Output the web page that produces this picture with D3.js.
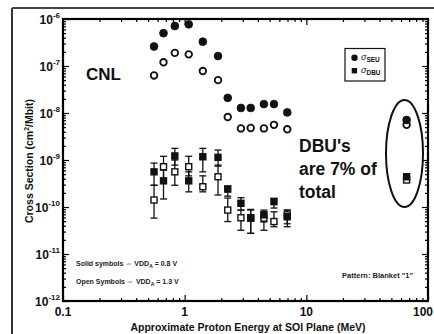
<!DOCTYPE html>
<html><head><meta charset="utf-8">
<script src="https://cdn.jsdelivr.net/npm/d3@7"></script>
<style>
html,body{margin:0;padding:0;background:#fff;}
svg{display:block;font-family:"Liberation Sans",Arial,Helvetica,sans-serif;font-weight:bold;}
</style></head>
<body><svg id="c" width="434" height="334"></svg>
<script>
// ---- data ----
const energy = [0.56,0.67,0.83,1.08,1.41,1.88,2.26,2.9,3.49,4.48,5.42,6.97];
const seuSolid = [2.6e-7,5.0e-7,7.1e-7,7.7e-7,3.3e-7,1.63e-7,2.1e-8,1.28e-8,1.28e-8,1.55e-8,1.55e-8,1.03e-8];
const seuOpen  = [6.3e-8,1.2e-7,1.9e-7,1.77e-7,7.8e-8,5.0e-8,8.2e-9,4.7e-9,4.8e-9,4.7e-9,5.6e-9,4.5e-9];
const dbuSolid = [5.6e-10,3.6e-10,1.22e-9,3.6e-10,1.17e-9,1.14e-9,2.4e-10,1.2e-10,5.9e-11,6.8e-11,1.3e-10,6.2e-11];
const dbuSolidHi = [8.6e-10,6.1e-10,1.77e-9,5.6e-10,1.77e-9,1.63e-9,2.8e-10,1.58e-10,8.9e-11,8.6e-11,1.53e-10,8.6e-11];
const dbuSolidLo = [2.9e-10,1.48e-10,7.8e-10,2.1e-10,5.6e-10,7.4e-10,1.7e-10,8.6e-11,2.75e-11,4.8e-11,9.5e-11,3.8e-11];
const dbuOpen  = [1.41e-10,7.2e-10,5.6e-10,7.2e-10,2.7e-10,4.4e-10,8.6e-11,5.9e-11,5.8e-11,5.8e-11,4.9e-11,6.8e-11];
const dbuOpenHi = [2.9e-10,1.2e-9,1.0e-9,1.2e-9,4.6e-10,7.8e-10,1.55e-10,8.6e-11,8.6e-11,7.9e-11,7.9e-11,8.6e-11];
const dbuOpenLo = [5.8e-11,4.1e-10,2.9e-10,4.6e-10,2.1e-10,1.8e-10,4.9e-11,3.2e-11,2.75e-11,3.2e-11,3.8e-11,4.4e-11];
const hiEnergy = [66.7];
const hiSeuSolid = [7.1e-9], hiSeuOpen = [5.6e-9];
const hiDbuSolid = [4.4e-10], hiDbuOpen = [3.75e-10];
const xTicks = [0.1, 1, 10, 100];
const xTickLabels = ["0.1", "1", "10", "100"];
const yExps = [-12,-11,-10,-9,-8,-7,-6];
const legendLabels = [["σ","SEU"],["σ","DBU"]];

// ---- layout ----
const svg = d3.select("#c");
const L = 63, R = 428, T = 19, B = 301;
const x = d3.scaleLog().domain([0.1,100]).range([L,R]);
const y = d3.scaleLog().domain([1e-12,1e-6]).range([B,T]);

// outer scan frame
svg.append("line").attr("x1",12).attr("x2",12).attr("y1",8).attr("y2",334).attr("stroke","#333").attr("stroke-width",2);
svg.append("line").attr("x1",12).attr("x2",434).attr("y1",8).attr("y2",8).attr("stroke","#444").attr("stroke-width",2);

// minor tick values
const xMinor = x.ticks(30).filter(v => !xTicks.some(t => Math.abs(t-v)/t < 1e-6));
const yMinor = y.ticks(60).filter(v => Math.abs(Math.log10(v) - Math.round(Math.log10(v))) > 1e-6);

function tickAxis(gen, tr, vals, size) {
  const g = svg.append("g").attr("transform", tr)
    .call(gen.tickValues(vals).tickSize(size).tickFormat(""));
  g.select(".domain").remove();
  g.selectAll("line").attr("stroke","#000").attr("stroke-width",1.2);
  return g;
}
// inward ticks on all four sides
tickAxis(d3.axisBottom(x), `translate(0,${B})`, xTicks, -6);
tickAxis(d3.axisBottom(x), `translate(0,${B})`, xMinor, -3);
tickAxis(d3.axisTop(x), `translate(0,${T})`, xTicks, -6);
tickAxis(d3.axisTop(x), `translate(0,${T})`, xMinor, -3);
const yMaj = yExps.map(e => Math.pow(10,e));
tickAxis(d3.axisLeft(y), `translate(${L},0)`, yMaj, -6);
tickAxis(d3.axisLeft(y), `translate(${L},0)`, yMinor, -3);
tickAxis(d3.axisRight(y), `translate(${R},0)`, yMaj, -6);
tickAxis(d3.axisRight(y), `translate(${R},0)`, yMinor, -3);

// plot frame
svg.append("rect").attr("x",L).attr("y",T).attr("width",R-L).attr("height",B-T)
  .attr("fill","none").attr("stroke","#000").attr("stroke-width",2.2);

// y tick labels with superscripts
const yl = svg.append("g");
yExps.forEach(e => {
  const t = yl.append("text").attr("x",L-3).attr("y",y(Math.pow(10,e))+5)
    .attr("text-anchor","end").attr("font-size",12).attr("fill","#111");
  t.append("tspan").text("10");
  t.append("tspan").attr("dy",-6).attr("font-size",8).text(e);
});
// x tick labels (last one kept inside the page)
xTicks.forEach((v,i) => {
  const last = i === xTicks.length - 1;
  svg.append("text").attr("x", last ? 433 : x(v)).attr("y",316)
    .attr("text-anchor", last ? "end" : "middle")
    .attr("font-size",12).attr("fill","#111").text(xTickLabels[i]);
});

// axis titles
svg.append("text").attr("x",248).attr("y",331).attr("text-anchor","middle")
  .attr("font-size",10.5).attr("fill","#111").text("Approximate Proton Energy at SOI Plane (MeV)");
const yt = svg.append("text").attr("transform","translate(33,161) rotate(-90)")
  .attr("text-anchor","middle").attr("font-size",10.5).attr("fill","#111");
yt.append("tspan").text("Cross Section (cm");
yt.append("tspan").attr("dy",-4).attr("font-size",7).text("2");
yt.append("tspan").attr("dy",4).text("/Mbit)");

// ---- marks ----
const g = svg.append("g");
function errBars(vals, lo, hi) {
  energy.forEach((e,i) => {
    const cx = x(e);
    g.append("line").attr("x1",cx).attr("x2",cx).attr("y1",y(hi[i])).attr("y2",y(lo[i])).attr("stroke","#111").attr("stroke-width",1.3);
    [hi[i],lo[i]].forEach(v => g.append("line").attr("x1",cx-3.5).attr("x2",cx+3.5).attr("y1",y(v)).attr("y2",y(v)).attr("stroke","#111").attr("stroke-width",1.3));
  });
}
errBars(dbuOpen, dbuOpenLo, dbuOpenHi);
errBars(dbuSolid, dbuSolidLo, dbuSolidHi);

function circles(xs, vals, filled) {
  g.selectAll(null).data(vals).enter().append("circle")
    .attr("cx",(d,i)=>x(xs[i])).attr("cy",d=>y(d))
    .attr("r", filled ? 3.9 : 3.3)
    .attr("fill", filled ? "#111" : "#fff").attr("stroke","#111").attr("stroke-width", filled ? 0.8 : 1.8);
}
function squares(xs, vals, filled) {
  const s = 6;
  g.selectAll(null).data(vals).enter().append("rect")
    .attr("x",(d,i)=>x(xs[i])-s/2).attr("y",d=>y(d)-s/2).attr("width",s).attr("height",s)
    .attr("fill", filled ? "#111" : "#fff").attr("stroke","#111").attr("stroke-width",1.4);
}
circles(energy, seuOpen, false);
circles(energy, seuSolid, true);
squares(energy, dbuOpen, false);
squares(energy, dbuSolid, true);
circles(hiEnergy, hiSeuOpen, false);
circles(hiEnergy, hiSeuSolid, true);
squares(hiEnergy, hiDbuOpen, false);
squares(hiEnergy, hiDbuSolid, true);

// ellipse around high-energy points
svg.append("ellipse").attr("cx",404.5).attr("cy",153.5).attr("rx",18.5).attr("ry",53.5)
  .attr("fill","none").attr("stroke","#111").attr("stroke-width",2);

// legend
svg.append("rect").attr("x",345).attr("y",48.5).attr("width",40).attr("height",32.5)
  .attr("fill","#fff").attr("stroke","#111").attr("stroke-width",1.2);
svg.append("circle").attr("cx",354.5).attr("cy",57.7).attr("r",3.2).attr("fill","#111");
svg.append("rect").attr("x",351.7).attr("y",68).attr("width",5.4).attr("height",5.4).attr("fill","#111");
legendLabels.forEach((lab,i) => {
  const t = svg.append("text").attr("x",361).attr("y",60+i*13).attr("font-size",9).attr("fill","#111").attr("font-weight","normal");
  t.append("tspan").attr("font-style","italic").text(lab[0]);
  t.append("tspan").attr("dy",2).attr("font-size",6.5).attr("font-weight","bold").text(lab[1]);
});

// annotations
svg.append("text").attr("x",86).attr("y",80).attr("font-size",17).attr("fill","#111").text("CNL");
["DBU's","are 7% of","total"].forEach((s,i) => {
  svg.append("text").attr("x",299).attr("y",152+i*23).attr("font-size",17.5).attr("fill","#111").text(s);
});
const notes = [["Solid symbols ⇔ VDD","A"," = 0.8 V"],["Open Symbols ⇔ VDD","A"," = 1.3 V"]];
notes.forEach((n,i) => {
  const t = svg.append("text").attr("x",76).attr("y",266+i*18).attr("font-size",7).attr("fill","#222");
  t.append("tspan").text(n[0]);
  t.append("tspan").attr("dy",2).attr("font-size",5).text(n[1]);
  t.append("tspan").attr("dy",-2).text(n[2]);
});
svg.append("text").attr("x",413).attr("y",278).attr("text-anchor","end").attr("font-size",7.5).attr("fill","#222").text("Pattern: Blanket \"1\"");
</script></body></html>
